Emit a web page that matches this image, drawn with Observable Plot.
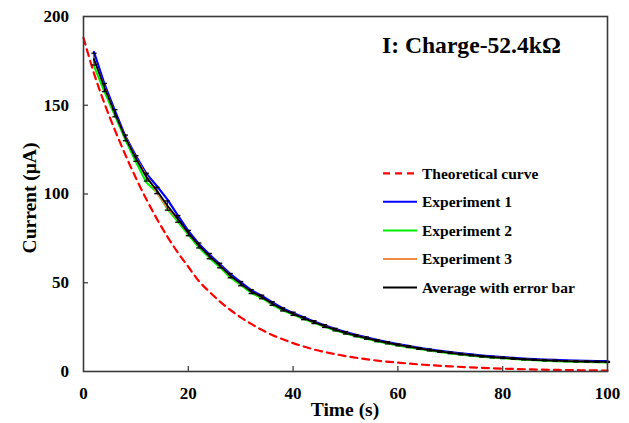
<!DOCTYPE html>
<html>
<head>
<meta charset="utf-8">
<script src="https://cdn.jsdelivr.net/npm/d3@7"></script>
<script src="https://cdn.jsdelivr.net/npm/@observablehq/plot@0.6"></script>
<style>
  html, body { margin: 0; padding: 0; background: #fff; }
  #wrap { position: relative; width: 629px; height: 423px; }
  #wrap svg { display: block; }
  #overlay { position: absolute; left: 0; top: 0; pointer-events: none; }
</style>
</head>
<body>
<div id="wrap"></div>
<script>
// ---- data ----
const timesTheory = [0,2,4,6,8,10,12,14,16,18,20,22,24,26,28,30,32,34,36,38,40,42,44,46,48,50,55,60,65,70,75,80,85,90,95,100];
const theoryValues = [188,168,151,136,122,109,97,86,76,67,59,51,45,39.5,34.7,30.5,26.8,23.5,20.6,18.2,16,14.1,12.4,11,9.8,8.7,6.5,5,3.8,2.9,2.2,1.6,1.2,0.9,0.7,0.5];

const timesExp = [2,4,6,8,10,12,14,16,18,20,22,24,26,28,30,32,34,36,38,40,42,44,46,48,50,52,54,56,58,60,62,64,66,68,70,72,74,76,78,80,82,84,86,88,90,92,94,96,98,100];
const exp1 = [180,162,147,132.5,121.5,111.5,104.5,97,88,79.2,72,66,60.5,55,50.3,45.8,42.7,39,35.6,33,30.5,28.2,26,24,22.2,20.6,19.2,17.8,16.6,15.4,14.4,13.4,12.5,11.7,10.9,10.2,9.6,9,8.5,8.1,7.7,7.3,7,6.7,6.5,6.3,6.1,6,5.9,5.8];
const exp2 = [172,157.5,144,130.5,118,106.5,101,91.5,84.5,77,70,64,58.8,53,48.8,44.2,41.4,37.6,34.5,32,29.6,27.4,25.2,23.2,21.4,19.8,18.4,17,15.8,14.6,13.6,12.7,11.8,11,10.2,9.5,8.9,8.3,7.8,7.4,7,6.6,6.3,6,5.8,5.6,5.4,5.3,5.2,5.1];
const exp3 = [176,160.5,145.5,132,120.5,110.5,100.5,92,85.5,77.8,71,65,59.8,54,49.4,45,41.9,38.3,35,32.5,29.9,27.8,25.6,23.6,21.8,20.2,18.8,17.4,16.2,15,14,13,12.1,11.3,10.5,9.8,9.2,8.6,8.1,7.7,7.3,6.9,6.6,6.3,6.1,5.9,5.7,5.6,5.5,5.4];
const average = [176,160,145.5,131.6,120,109.5,102,93.5,86,78,71,65,59.7,54,49.5,45,42,38.3,35,32.5,30,27.8,25.6,23.6,21.8,20.2,18.8,17.4,16.2,15,14,13,12.1,11.3,10.5,9.8,9.2,8.6,8.1,7.7,7.3,6.9,6.6,6.3,6.1,5.9,5.7,5.6,5.5,5.4];
const errorBar = [3.3,2.3,2,1.6,1.6,2.2,1.8,2.6,1.9,1.5,1.4,1.5,1.3,1.2,1.2,1.1,1,1,0.9,0.9,0.8,0.8,0.8,0.7,0.7,0.6,0.6,0.6,0.6,0.5,0.5,0.5,0.5,0.5,0.4,0.4,0.4,0.4,0.4,0.4,0.4,0.3,0.3,0.3,0.3,0.3,0.3,0.3,0.3,0.3];

const xTicks = [0,20,40,60,80,100];
const yTicks = [0,50,100,150,200];
const xInnerTicks = [20,40,60,80];
const yInnerTicks = [50,100,150];

const chartTitle = "I: Charge-52.4kΩ";
const xLabel = "Time (s)";
const yLabel = "Current (μA)";
const legendLabels = ["Theoretical curve","Experiment 1","Experiment 2","Experiment 3","Average with error bar"];
const legendColors = ["#ff0000","#0000ff","#00ee00","#f28a45","#000000"];
const legendDash = ["7,5",null,null,null,null];

// ---- build tables ----
const theory = timesTheory.map((t,i)=>({t, v: theoryValues[i]}));
const mk = arr => timesExp.map((t,i)=>({t, v: arr[i]}));
const avgData = timesExp.map((t,i)=>({t, v: average[i], e: errorBar[i]}));

const capSymbol = { draw(ctx, size) { ctx.moveTo(-2.6, 0); ctx.lineTo(2.6, 0); } };

const font = "'Liberation Serif', 'Times New Roman', serif";

const chart = Plot.plot({
  width: 629, height: 423,
  marginLeft: 83, marginRight: 22, marginTop: 16, marginBottom: 52,
  style: { fontFamily: font, fontSize: "17px", fontWeight: "bold", color: "#000", background: "#fff", overflow: "visible" },
  x: { domain: [0, 100] },
  y: { domain: [0, 200] },
  marks: [
    Plot.axisX({ ticks: xTicks, tickSize: 0, tickPadding: 15, label: null, tickFormat: d => String(d) }),
    Plot.axisY({ ticks: yTicks, tickSize: 0, tickPadding: 14.5, label: null, tickFormat: d => String(d) }),
    Plot.tickX(xInnerTicks, { x: d => d, insetTop: 350, stroke: "#333", strokeWidth: 1.2 }),
    Plot.tickY(yInnerTicks, { y: d => d, insetRight: 519, stroke: "#333", strokeWidth: 1.2 }),
    Plot.line(theory, { x: "t", y: "v", stroke: legendColors[0], strokeWidth: 2.2, strokeDasharray: legendDash[0], curve: "monotone-x" }),
    Plot.line(mk(exp1), { x: "t", y: "v", stroke: legendColors[1], strokeWidth: 2.2 }),
    Plot.line(mk(exp2), { x: "t", y: "v", stroke: legendColors[2], strokeWidth: 2 }),
    Plot.line(mk(exp3), { x: "t", y: "v", stroke: legendColors[3], strokeWidth: 1.6 }),
    Plot.ruleX(avgData, { x: "t", y1: d => d.v - d.e, y2: d => d.v + d.e, stroke: "#000", strokeWidth: 1 }),
    Plot.dot(avgData, { x: "t", y: d => d.v + d.e, symbol: capSymbol, stroke: "#000", fill: "none", strokeWidth: 1.3 }),
    Plot.dot(avgData, { x: "t", y: d => d.v - d.e, symbol: capSymbol, stroke: "#000", fill: "none", strokeWidth: 1.3 }),
    Plot.line(avgData, { x: "t", y: "v", stroke: legendColors[4], strokeWidth: 1.8 }),
    Plot.frame({ stroke: "#3a3a3a", strokeWidth: 1.6 })
  ]
});
document.getElementById("wrap").appendChild(chart);

// ---- overlay: title, axis labels, legend ----
const ov = d3.select("#wrap").append("svg")
  .attr("id", "overlay").attr("width", 629).attr("height", 423)
  .style("font-family", font).style("font-weight", "bold");

ov.append("text").attr("x", 382).attr("y", 53).attr("font-size", 23.6).attr("fill", "#000").text(chartTitle);
ov.append("text").attr("x", 345).attr("y", 416).attr("text-anchor", "middle").attr("font-size", 19.5).attr("fill", "#000").text(xLabel);
ov.append("text").attr("transform", "translate(36,198) rotate(-90)").attr("text-anchor", "middle").attr("font-size", 19.5).attr("fill", "#000").text(yLabel);

const rowY = d3.scalePoint().domain(legendLabels).range([173.3, 287.5]);
const g = ov.append("g");
legendLabels.forEach((lab, i) => {
  const y = rowY(lab);
  g.append("line").attr("x1", 383).attr("x2", 417).attr("y1", y).attr("y2", y)
    .attr("stroke", legendColors[i]).attr("stroke-width", i === 0 ? 2.2 : 2)
    .attr("stroke-dasharray", legendDash[i]);
  g.append("text").attr("x", 422).attr("y", y).attr("dy", "0.35em").attr("font-size", 15.5).attr("fill", "#000").text(lab);
});
</script>
</body>
</html>
